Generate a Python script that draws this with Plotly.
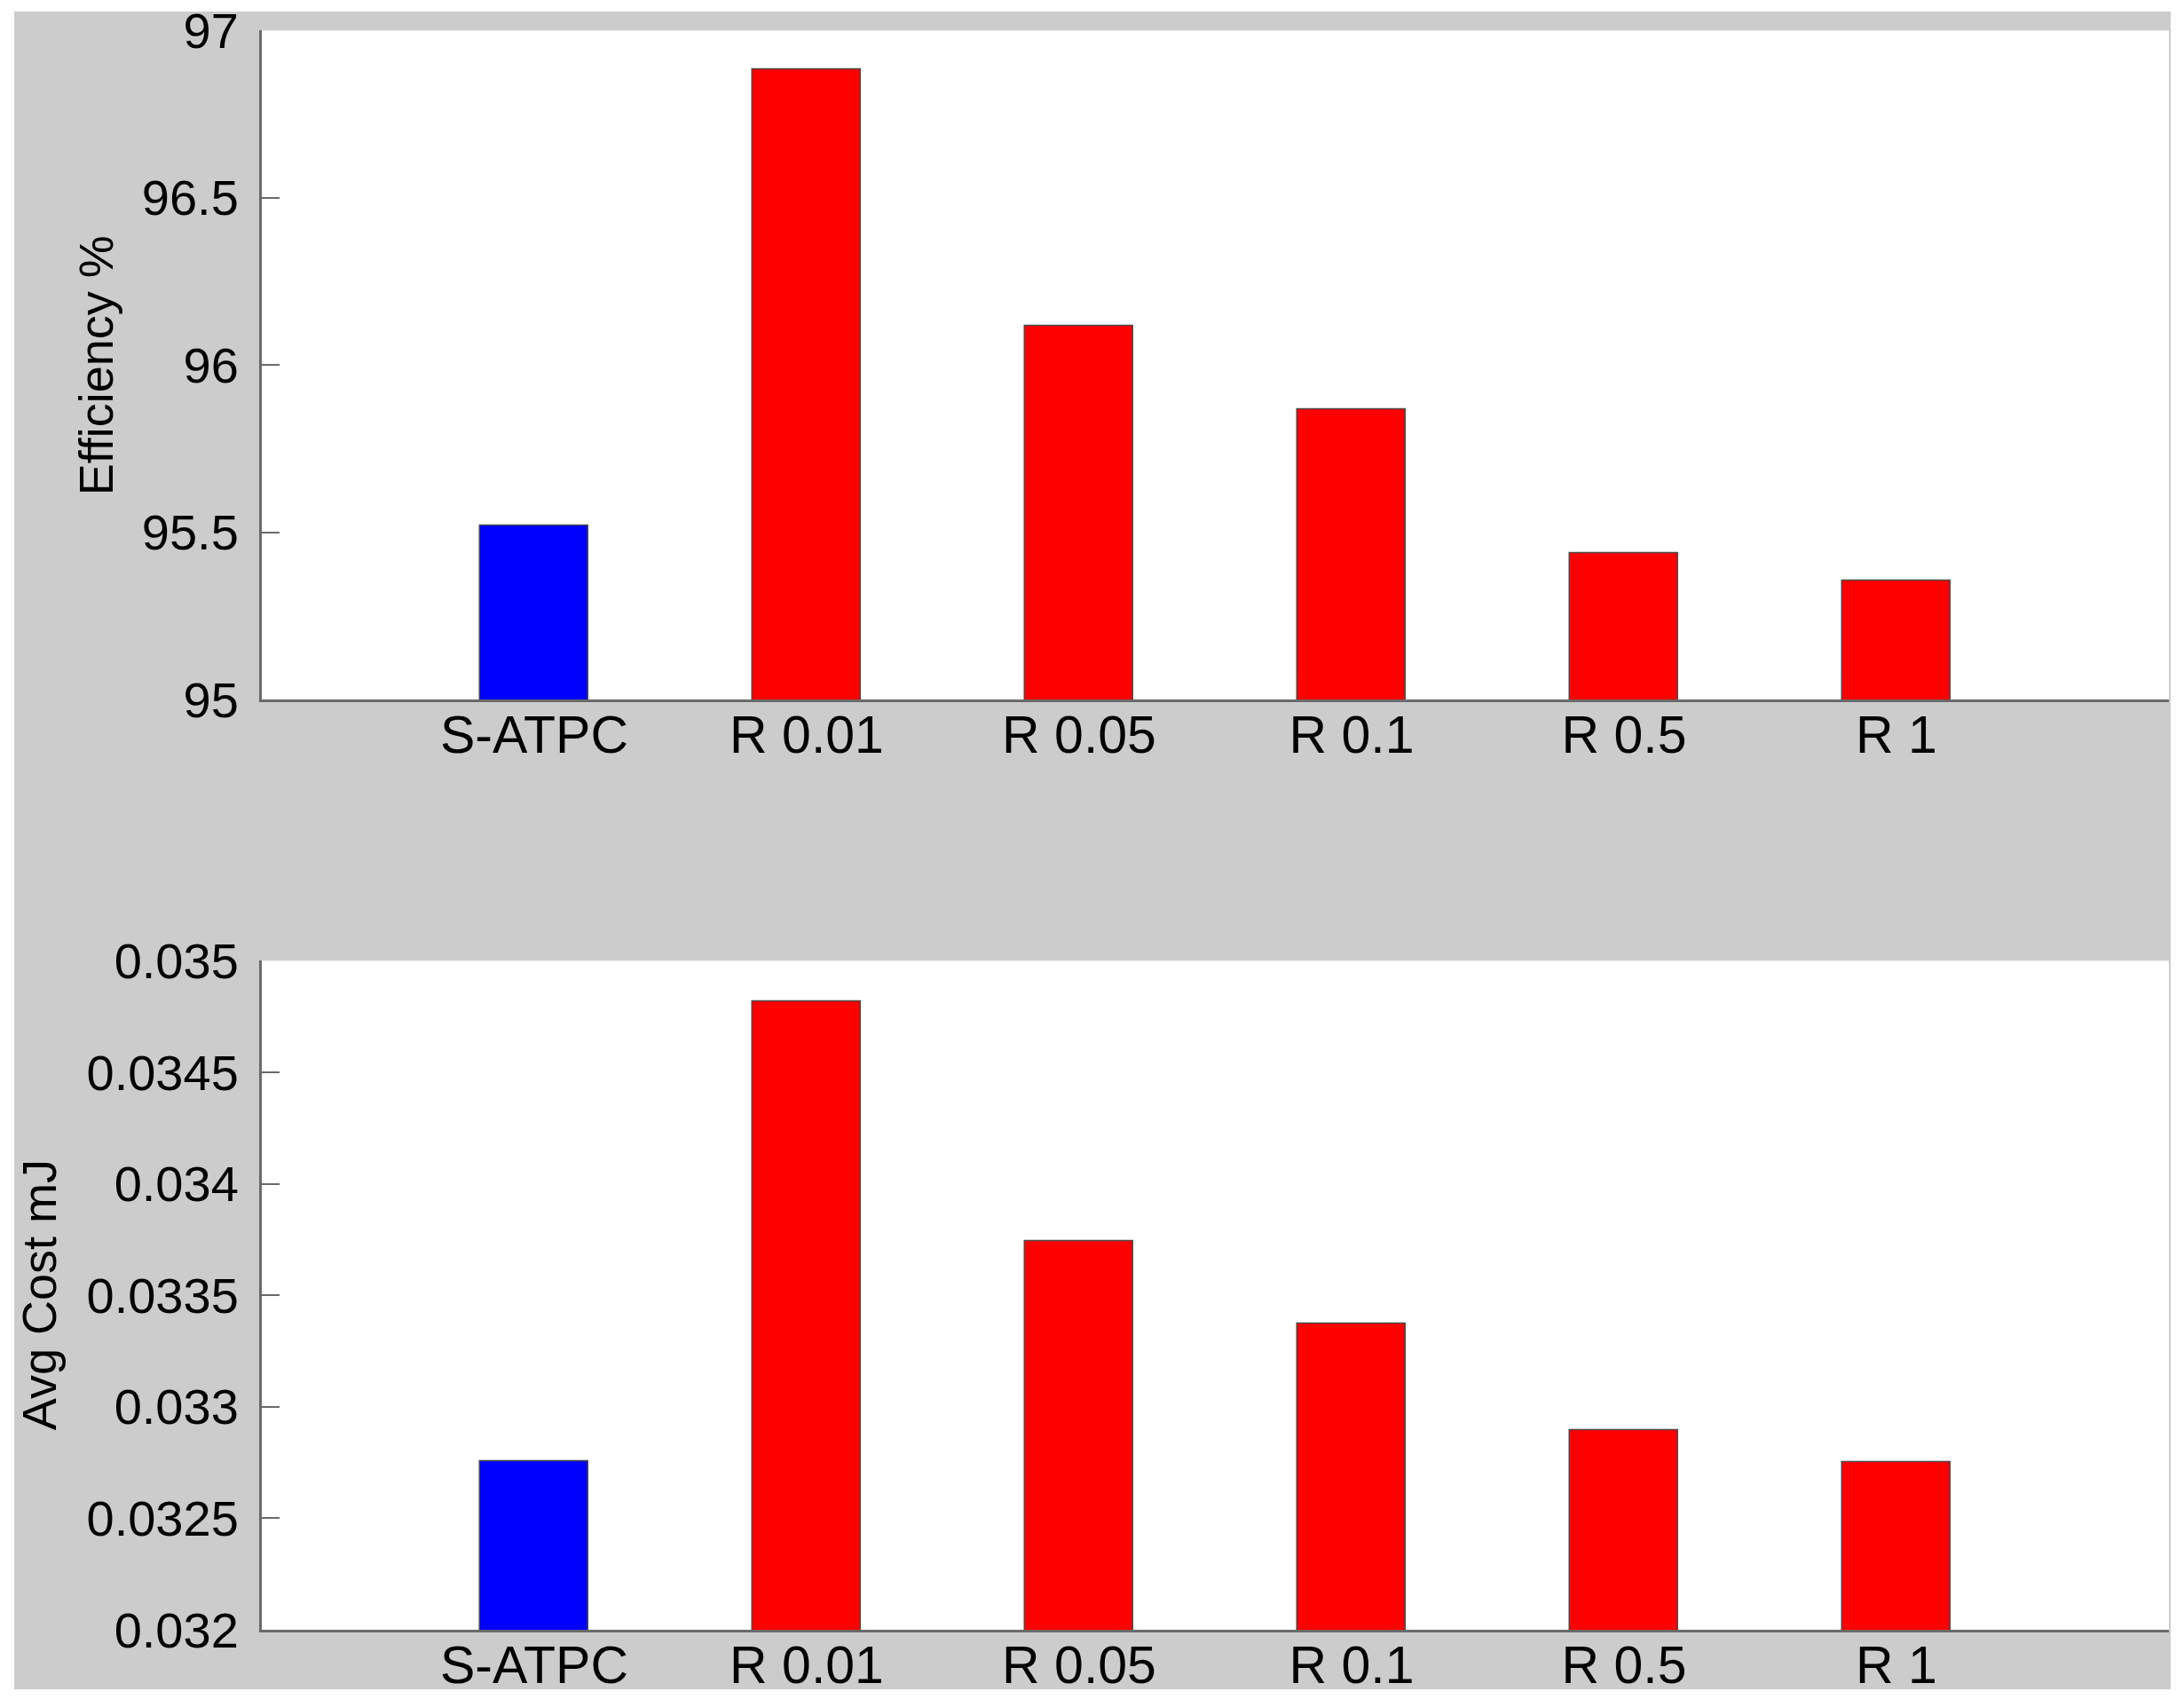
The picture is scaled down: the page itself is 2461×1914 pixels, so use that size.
import plotly.graph_objects as go
from plotly.subplots import make_subplots

# ---- data ----
categories = ["S-ATPC", "R 0.01", "R 0.05", "R 0.1", "R 0.5", "R 1"]
positions = [1, 2, 3, 4, 5, 6]
efficiency = [95.519, 96.883, 96.118, 95.868, 95.438, 95.356]
avg_cost = [0.032757, 0.034815, 0.033741, 0.033372, 0.032893, 0.032753]
bar_colors = ["#0000ff", "#ff0000", "#ff0000", "#ff0000", "#ff0000", "#ff0000"]

eff_ticks = [95, 95.5, 96, 96.5, 97]
eff_ticktext = ["95", "95.5", "96", "96.5", "97"]
cost_ticks = [0.032, 0.0325, 0.033, 0.0335, 0.034, 0.0345, 0.035]
cost_ticktext = ["0.032", "0.0325", "0.033", "0.0335", "0.034", "0.0345", "0.035"]

# ---- layout geometry (pixels) ----
W, H = 2445, 1898
ML, MR, MT, MB = 287, 9, 26, 70
PW = W - ML - MR
PH = H - MT - MB
top_plot = (26.3, 780.3)
bot_plot = (1074.3, 1828.0)


def ydom(y0, y1):
    return [(H - MB - y1) / PH, (H - MB - y0) / PH]


def px_x(fx):
    return (fx - ML) / PW


def px_y(fy):
    return (H - MB - fy) / PH


FONT = "Liberation Sans, Arial, Helvetica, sans-serif"
GRAY_BG = "#cccccc"
AXIS_COL = "#6a6a6a"

fig = make_subplots(rows=2, cols=1)

fig.add_trace(go.Bar(x=positions, y=efficiency, width=0.4,
                     marker=dict(color=bar_colors, line=dict(color="#4a4a4a", width=1.5)),
                     showlegend=False), row=1, col=1)
fig.add_trace(go.Bar(x=positions, y=avg_cost, width=0.4,
                     marker=dict(color=bar_colors, line=dict(color="#4a4a4a", width=1.5)),
                     showlegend=False), row=2, col=1)

xaxis_common = dict(range=[0, 7], tickmode="array", tickvals=positions, ticktext=categories,
                    showgrid=False, zeroline=False, showline=True, linecolor=AXIS_COL,
                    linewidth=3, ticks="", tickfont=dict(family=FONT, size=59, color="black"),
                    ticklabelstandoff=-14, mirror=False, automargin=False,
                    ticklabeloverflow="allow")
fig.update_xaxes(**xaxis_common, row=1, col=1)
fig.update_xaxes(**xaxis_common, row=2, col=1)

yaxis_common = dict(showgrid=False, zeroline=False, showline=True, linecolor=AXIS_COL,
                    linewidth=3, ticks="inside", ticklen=20, tickwidth=2, tickcolor=AXIS_COL,
                    tickfont=dict(family=FONT, size=56, color="black"), ticklabelstandoff=12,
                    automargin=False, ticklabeloverflow="allow")
fig.update_yaxes(**yaxis_common, range=[95, 97], tickmode="array", tickvals=eff_ticks,
                 ticktext=eff_ticktext, domain=ydom(*top_plot), row=1, col=1)
fig.update_yaxes(**yaxis_common, range=[0.032, 0.035], tickmode="array", tickvals=cost_ticks,
                 ticktext=cost_ticktext, domain=ydom(*bot_plot), row=2, col=1)

annotations = [
    dict(text="Efficiency %", xref="paper", yref="paper", x=px_x(100), y=px_y(sum(top_plot) / 2),
         xanchor="center", yanchor="middle", textangle=-90, showarrow=False,
         font=dict(family=FONT, size=54, color="black")),
    dict(text="Avg Cost mJ", xref="paper", yref="paper", x=px_x(36), y=px_y(sum(bot_plot) / 2),
         xanchor="center", yanchor="middle", textangle=-90, showarrow=False,
         font=dict(family=FONT, size=54, color="black")),
]

# white outer border around the grey figure area
shapes = []
for (x0, y0, x1, y1) in [(0, 0, 8, H), (2438, 0, W, H), (0, 0, W, 5), (0, 1895, W, H)]:
    shapes.append(dict(type="rect", xref="paper", yref="paper",
                       x0=px_x(x0), x1=px_x(x1), y0=px_y(y1), y1=px_y(y0),
                       fillcolor="white", line=dict(width=0), layer="above"))

fig.update_layout(width=W, height=H, margin=dict(l=ML, r=MR, t=MT, b=MB, autoexpand=False),
                  paper_bgcolor=GRAY_BG, plot_bgcolor="white",
                  annotations=annotations, shapes=shapes, bargap=0,
                  font=dict(family=FONT, color="black"))

fig.write_html("out.html")
